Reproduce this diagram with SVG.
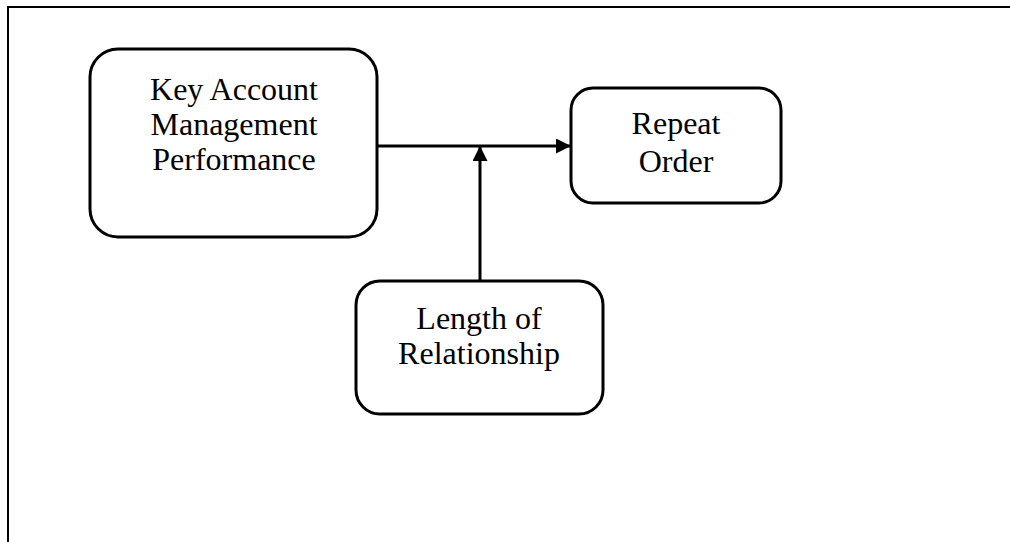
<svg xmlns="http://www.w3.org/2000/svg" width="1010" height="542" viewBox="0 0 1010 542">
<style>
.box{fill:#fff;stroke:#000;stroke-width:3}
.lbl{font-family:"Liberation Serif","Times New Roman",serif;font-size:32px;fill:#000;text-anchor:middle}
.conn{stroke:#000;stroke-width:3;fill:none}
</style>
<defs>
<marker id="ah" markerWidth="15" markerHeight="15" refX="14" refY="7.5" orient="auto" markerUnits="userSpaceOnUse">
<path d="M0,0 L15,7.5 L0,15 Z" fill="#000"/>
</marker>
</defs>
<rect width="1010" height="542" fill="#fff"/>
<g id="frame">
<path d="M8,542 V7 H1010" fill="none" stroke="#000" stroke-width="2"/>
</g>
<g id="connectors">
<line class="conn" x1="377" y1="146" x2="570" y2="146" marker-end="url(#ah)"/>
<line class="conn" x1="480" y1="280" x2="480" y2="147" marker-end="url(#ah)"/>
</g>
<g id="node-kam">
<rect class="box" x="90" y="49" width="287" height="188" rx="28"/>
<text class="lbl" x="234" y="100">Key Account</text>
<text class="lbl" x="234" y="135">Management</text>
<text class="lbl" x="234" y="170">Performance</text>
</g>
<g id="node-repeat">
<rect class="box" x="571" y="88" width="210" height="115" rx="22"/>
<text class="lbl" x="676" y="134">Repeat</text>
<text class="lbl" x="676" y="172">Order</text>
</g>
<g id="node-length">
<rect class="box" x="356" y="281" width="247" height="133" rx="24"/>
<text class="lbl" x="479" y="329">Length of</text>
<text class="lbl" x="479" y="364">Relationship</text>
</g>
</svg>
